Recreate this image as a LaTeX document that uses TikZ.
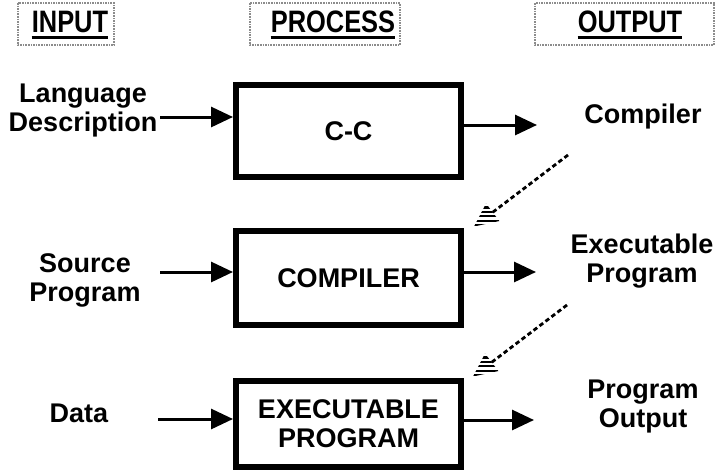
\documentclass[tikz,border=0pt]{standalone}
\usepackage{fontspec}
\setmainfont{Liberation Sans}
\newfontfamily\hdrfont[FakeStretch=0.82]{Liberation Sans}
\usetikzlibrary{arrows.meta,calc}

\begin{document}
\begin{tikzpicture}[x=1pt,y=-1pt,
  lbl/.style={font=\fontsize{27}{29}\selectfont\bfseries, align=center, inner sep=0pt},
  procbox/.style={draw, line width=6pt, minimum width=225pt, font=\fontsize{27}{29}\selectfont\bfseries, align=center},
  hdr/.style={font=\hdrfont\fontsize{31}{33}\selectfont\bfseries, inner sep=0pt, anchor=base},
  hdrframe/.style={draw=black!45, densely dotted, line width=1.6pt},
  uline/.style={line width=3pt},
  flow/.style={line width=3pt, -{Triangle[length=22pt,width=20pt]}},
  feed/.style={line width=2.8pt, dash pattern=on 4.5pt off 3pt},
  hatch/.style={line width=2.2pt}
]
\useasboundingbox (0,0) rectangle (716,472);

% column headings
\node[hdr] (hin)  at (70,32)  {INPUT};
\node[hdr] (hpr)  at (333,32) {PROCESS};
\node[hdr] (hout) at (630,32) {OUTPUT};
\foreach \h in {hin,hpr,hout}{
  \draw[uline] ([yshift=-5pt]\h.base west) -- ([yshift=-5pt]\h.base east);
}
\draw[hdrframe] (18,3) rectangle (114,45);
\draw[hdrframe] (250,3) rectangle (400,45);
\draw[hdrframe] (535,3) rectangle (714,45);

% process boxes
\node[procbox, minimum height=92pt] (cc)   at (348.5,131) {C-C};
\node[procbox, minimum height=94pt] (comp) at (348.5,278) {COMPILER};
\node[procbox, minimum height=86pt] (exec) at (348.5,424) {EXECUTABLE\\PROGRAM};

% inputs
\node[lbl] (lang) at (83,111) {Language\\Description};
\node[lbl] (src)  at (85,280) {Source\\Program};
\node[lbl] (data) at (79,413) {Data};

% outputs
\node[lbl] (ocomp) at (643,117) {Compiler};
\node[lbl] (oexe)  at (642,261) {Executable\\Program};
\node[lbl] (oout)  at (643,407) {Program\\Output};

% input arrows
\coordinate (i1) at (160,117);
\coordinate (i2) at (160,272);
\coordinate (i3) at (158,419);
\draw[flow] (i1) -- (i1 -| cc.west);
\draw[flow] (i2) -- (i2 -| comp.west);
\draw[flow] (i3) -- (i3 -| exec.west);

% output arrows
\coordinate (o1) at (537,125);
\coordinate (o2) at (536,272);
\coordinate (o3) at (534,420);
\draw[flow] (o1 -| cc.east) -- (o1);
\draw[flow] (o2 -| comp.east) -- (o2);
\draw[flow] (o3 -| exec.east) -- (o3);

% feedback: each output becomes the next process, with a hatched head
\coordinate (f1s) at (568,155);
\coordinate (f1e) at (476,225);
\coordinate (f2s) at (567,305);
\coordinate (f2e) at (475,375);
\foreach \s/\e in {f1s/f1e, f2s/f2e}{
  \coordinate (m) at ($(\e)!21pt!(\s)$);
  \coordinate (hl) at ($(m)!11pt!90:(\s)$);
  \coordinate (hr) at ($(m)!11pt!-90:(\s)$);
  \draw[feed] (\s) -- (m);
  \begin{scope}
    \clip (\e) ++(-2,1.5) -- (hl) -- (hr) -- cycle;
    \foreach \k in {0,...,6}{
      \draw[hatch] ($(\e)+(-30,-\k*4.4)$) -- ++(70,0);
    }
  \end{scope}
}
\end{tikzpicture}
\end{document}
